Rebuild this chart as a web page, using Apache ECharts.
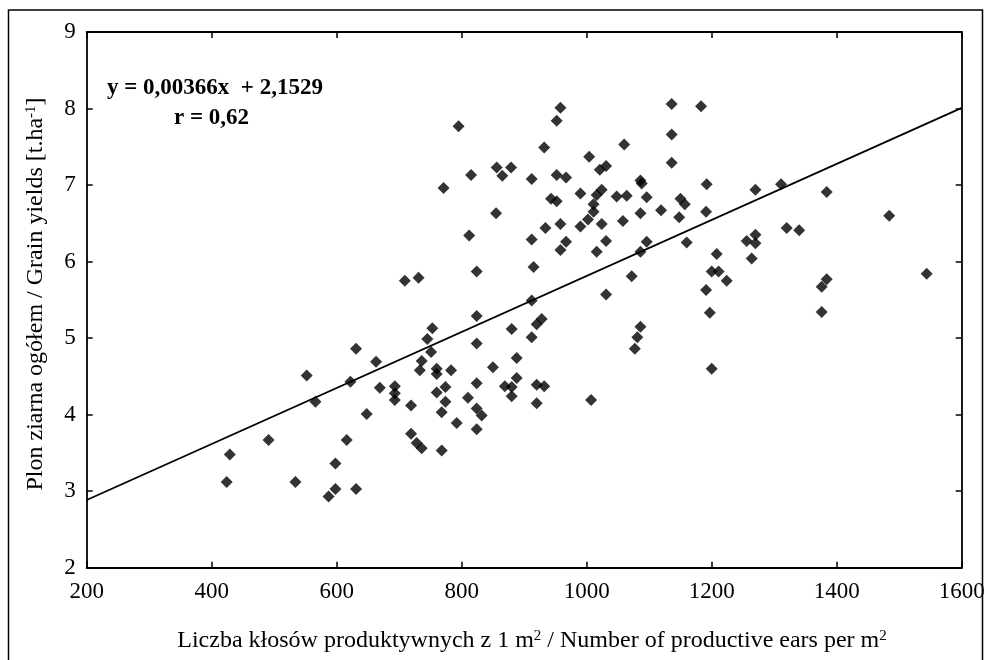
<!DOCTYPE html>
<html><head><meta charset="utf-8">
<script src="https://cdn.jsdelivr.net/npm/echarts@6/dist/echarts.min.js"></script>
<style>html,body{margin:0;padding:0;background:#fff}#c{width:990px;height:660px}</style>
</head><body><div id="c"></div>
<script>
// Number of productive ears per m2
const earsPerM2 = [
  958, 952, 795, 932, 1004, 856, 879, 865, 815, 912,
  952, 967, 771, 990, 943, 952, 1016, 1024, 1021, 1031,
  1011, 1011, 1002, 990, 958, 934, 855, 812, 912, 967,
  958, 1016, 824, 915, 709, 731, 1024, 1136, 1183, 1136,
  1060, 1136, 1086, 1088, 1192, 1048, 1064, 1096, 1150, 1157,
  1270, 1311, 1119, 1086, 1191, 1148, 1058, 1320, 1340, 1031,
  1096, 1160, 1256, 1270, 1270, 1086, 1208, 1264, 1072, 1200,
  1211, 1224, 1191, 1031, 1484, 1544, 1384, 1376, 1384, 1376,
  1197, 1086, 1081, 1077, 1200, 912, 824, 753, 880, 928,
  920, 745, 912, 824, 751, 736, 888, 733, 760, 760,
  783, 850, 888, 824, 774, 760, 869, 880, 880, 920,
  932, 920, 1007, 719, 774, 810, 768, 824, 832, 792,
  824, 719, 728, 736, 768, 631, 663, 552, 622, 566,
  669, 693, 693, 693, 648, 491, 616, 429, 598, 424,
  534, 598, 587, 631
];
// Grain yields [t/ha]
const grainYield = [
  8.01, 7.84, 7.77, 7.49, 7.37, 7.23, 7.23, 7.12, 7.13, 7.08,
  7.13, 7.10, 6.96, 6.89, 6.82, 6.79, 6.87, 6.94, 7.20, 7.25,
  6.75, 6.65, 6.55, 6.46, 6.49, 6.44, 6.63, 6.34, 6.29, 6.26,
  6.15, 6.13, 5.87, 5.93, 5.75, 5.79, 6.49, 8.06, 8.03, 7.66,
  7.53, 7.29, 7.06, 7.02, 7.01, 6.85, 6.86, 6.84, 6.82, 6.75,
  6.94, 7.01, 6.67, 6.63, 6.65, 6.58, 6.53, 6.44, 6.41, 6.27,
  6.26, 6.25, 6.27, 6.35, 6.24, 6.13, 6.10, 6.04, 5.81, 5.87,
  5.87, 5.75, 5.63, 5.57, 6.60, 5.84, 6.91, 5.67, 5.77, 5.34,
  5.33, 5.15, 5.01, 4.86, 4.60, 5.49, 5.29, 5.13, 5.12, 5.25,
  5.18, 4.99, 5.01, 4.93, 4.82, 4.70, 4.74, 4.58, 4.60, 4.53,
  4.58, 4.62, 4.48, 4.41, 4.36, 4.29, 4.37, 4.36, 4.24, 4.39,
  4.37, 4.15, 4.19, 4.12, 4.17, 4.22, 4.03, 4.08, 3.99, 3.89,
  3.81, 3.75, 3.63, 3.56, 3.53, 4.86, 4.69, 4.51, 4.43, 4.17,
  4.35, 4.37, 4.28, 4.19, 4.01, 3.67, 3.67, 3.48, 3.36, 3.12,
  3.12, 3.03, 2.93, 3.03
];
// regression y = a*x + b shown on the chart
const slope = 0.00366;
const intercept = 2.1529;
const xRange = [200, 1600];
const yRange = [2, 9];
const xStep = 200;
const yStep = 1;

const FONT = '"Liberation Serif", "Times New Roman", serif';
const points = earsPerM2.map((x, i) => [x, grainYield[i]]);
const trend = xRange.map(x => [x, slope * x + intercept]);
const plain = v => String(v);

const axisCommon = {
  type: 'value',
  axisLine: { show: true, onZero: false, lineStyle: { color: '#000', width: 1.8 } },
  axisTick: { show: true, inside: true, length: 6, lineStyle: { color: '#000', width: 1.5 } },
  splitLine: { show: false }
};

const chart = echarts.init(document.getElementById('c'));
chart.setOption({
  animation: false,
  backgroundColor: '#fff',
  grid: { left: 86.7, right: 28.3, top: 32, bottom: 92.3 },
  xAxis: [
    Object.assign({}, axisCommon, {
      min: xRange[0], max: xRange[1], interval: xStep, position: 'bottom',
      axisLabel: { margin: 13, fontFamily: FONT, fontSize: 23, color: '#000', formatter: plain }
    }),
    Object.assign({}, axisCommon, {
      min: xRange[0], max: xRange[1], interval: xStep, position: 'top',
      axisLabel: { show: false }
    })
  ],
  yAxis: [
    Object.assign({}, axisCommon, {
      min: yRange[0], max: yRange[1], interval: yStep, position: 'left',
      axisLabel: { margin: 11, fontFamily: FONT, fontSize: 23, color: '#000', formatter: plain }
    }),
    Object.assign({}, axisCommon, {
      min: yRange[0], max: yRange[1], interval: yStep, position: 'right',
      axisLabel: { show: false }
    })
  ],
  series: [
    {
      type: 'line', xAxisIndex: 0, yAxisIndex: 0, data: trend,
      symbol: 'none', lineStyle: { color: '#000', width: 1.8 }, z: 2, silent: true
    },
    {
      type: 'scatter', xAxisIndex: 0, yAxisIndex: 0, data: points,
      symbol: 'diamond', symbolSize: 12, itemStyle: { color: '#000' }, z: 3
    }
  ],
  graphic: [
    {
      type: 'rect', shape: { x: 8.5, y: 10, width: 974, height: 660 },
      style: { fill: 'none', stroke: '#000', lineWidth: 1.5 }, silent: true
    },
    {
      type: 'text', x: 107, y: 88,
      style: { text: 'y = 0,00366x  + 2,1529', font: 'bold 23px ' + FONT, fill: '#000',
               textAlign: 'left', textVerticalAlign: 'middle' }
    },
    {
      type: 'text', x: 174, y: 118,
      style: { text: 'r = 0,62', font: 'bold 23px ' + FONT, fill: '#000',
               textAlign: 'left', textVerticalAlign: 'middle' }
    },
    {
      type: 'text', x: 532, y: 641,
      style: {
        text: '{a|Liczba kłosów produktywnych z 1 m}{s|2}{a| / Number of productive ears per m}{s|2}',
        textAlign: 'center', textVerticalAlign: 'middle', fill: '#000',
        rich: {
          a: { fontFamily: FONT, fontSize: 24, color: '#000' },
          s: { fontFamily: FONT, fontSize: 15, color: '#000', verticalAlign: 'top' }
        }
      }
    },
    {
      type: 'text', x: 36, y: 294, rotation: Math.PI / 2,
      style: {
        text: '{a|Plon ziarna ogółem / Grain yields [t.ha}{s|-1}{a|]}',
        textAlign: 'center', textVerticalAlign: 'middle', fill: '#000',
        rich: {
          a: { fontFamily: FONT, fontSize: 24, color: '#000' },
          s: { fontFamily: FONT, fontSize: 15, color: '#000', verticalAlign: 'top' }
        }
      }
    }
  ]
});
</script>
</body></html>
